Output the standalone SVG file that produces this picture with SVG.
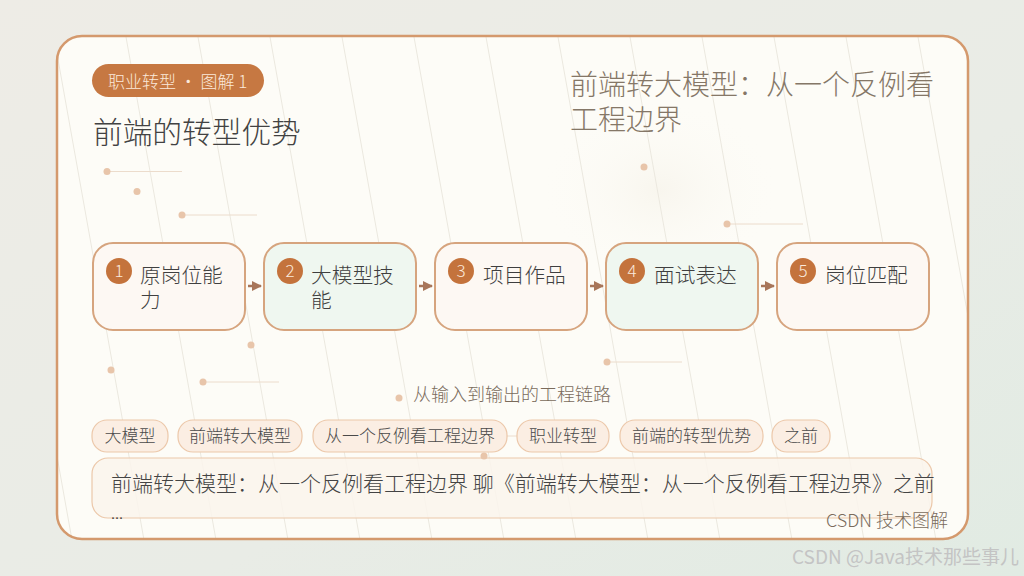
<svg xmlns="http://www.w3.org/2000/svg" width="1024" height="576" viewBox="0 0 1024 576">
<defs>
<linearGradient id="bg" x1="0" y1="0" x2="1" y2="1">
<stop offset="0" stop-color="#eeece6"/>
<stop offset="0.6" stop-color="#e9ece6"/>
<stop offset="1" stop-color="#e1ebe3"/>
</linearGradient>
<radialGradient id="glow" cx="0.5" cy="0.5" r="0.5">
<stop offset="0" stop-color="#f6f3ea" stop-opacity="0.7"/>
<stop offset="1" stop-color="#fdfcf7" stop-opacity="0"/>
</radialGradient>
<clipPath id="cardClip"><rect x="57" y="36" width="911" height="503" rx="25"/></clipPath>
<marker id="arr" viewBox="0 0 10 10" refX="9" refY="5" markerWidth="10" markerHeight="10" markerUnits="userSpaceOnUse" orient="auto">
<path d="M0,0 L10,5 L0,10 Z" fill="#a8765a"/>
</marker>
<style>
text{font-family:"Noto Sans CJK SC Light","Noto Sans CJK SC DemiLight","Noto Sans CJK SC","Noto Sans",sans-serif;font-weight:300}
.node{stroke:#d6a47e;stroke-width:2}
.warm{fill:#fdf8f3}
.green{fill:#eff7f0}
.num{fill:#c4733c}
.numt{fill:#fbeadd;font-size:17px;text-anchor:middle}
.lbl{fill:#3f3f3f;font-size:20.7px}
.tag{fill:#fbeee3;stroke:#ecc8aa;stroke-width:1.2}
.tagt{fill:#4a4a4a;font-size:17px;text-anchor:middle}
.dot{fill:#e8c5aa}
.dl{stroke:#ecdccc;stroke-width:1}
.sl{stroke:#ebe8df;stroke-width:1}
.conn{stroke:#a8765a;stroke-width:2.5;fill:none}
</style>
</defs>
<rect x="0" y="0" width="1024" height="576" fill="url(#bg)"/>
<rect x="57" y="36" width="911" height="503" rx="25" fill="#fdfcf7"/>
<g clip-path="url(#cardClip)">
<ellipse cx="660" cy="190" rx="120" ry="90" fill="url(#glow)"/>
<g class="sl">
<line x1="54" y1="37" x2="144" y2="540"/>
<line x1="126" y1="37" x2="216" y2="540"/>
<line x1="198" y1="37" x2="288" y2="540"/>
<line x1="270" y1="37" x2="360" y2="540"/>
<line x1="342" y1="37" x2="432" y2="540"/>
<line x1="414" y1="37" x2="504" y2="540"/>
<line x1="486" y1="37" x2="576" y2="540"/>
<line x1="558" y1="37" x2="648" y2="540"/>
<line x1="630" y1="37" x2="720" y2="540"/>
<line x1="702" y1="37" x2="792" y2="540"/>
<line x1="774" y1="37" x2="864" y2="540"/>
<line x1="846" y1="37" x2="936" y2="540"/>
<line x1="918" y1="37" x2="1008" y2="540"/>
<line x1="-18" y1="37" x2="72" y2="540"/>
</g>
</g>
<rect x="57" y="36" width="911" height="503" rx="25" fill="none" stroke="#d4996d" stroke-width="2.5"/>

<g id="decor">
<line class="dl" x1="107" y1="171.5" x2="182" y2="171.5"/><circle class="dot" cx="107" cy="171.5" r="3.5"/>
<circle class="dot" cx="137" cy="191.5" r="3.5"/>
<line class="dl" x1="182" y1="215" x2="257" y2="215"/><circle class="dot" cx="182" cy="215" r="3.5"/>
<circle class="dot" cx="644" cy="167" r="3.5"/>
<line class="dl" x1="727" y1="224" x2="803" y2="224"/><circle class="dot" cx="727" cy="224" r="3.5"/>
<circle class="dot" cx="251" cy="345" r="3.5"/>
<circle class="dot" cx="111" cy="370" r="3.5"/>
<line class="dl" x1="203" y1="382" x2="279" y2="382"/><circle class="dot" cx="203" cy="382" r="3.5"/>
<line class="dl" x1="607" y1="362" x2="682" y2="362"/><circle class="dot" cx="607" cy="362" r="3.5"/>
<circle class="dot" cx="399" cy="398" r="3.5"/>
<line class="dl" x1="460" y1="436" x2="535" y2="436"/>
</g>

<g id="badge">
<rect x="92" y="64" width="172" height="33" rx="16.5" fill="#c67842"/>
<text x="108" y="87.5" font-size="17" fill="#fbe9da">职业转型 · 图解 1</text>
</g>
<text id="title" x="93" y="143" font-size="29.7" fill="#424242">前端的转型优势</text>
<g id="subtitle" fill="#857767" font-size="28">
<text x="570" y="95">前端转大模型：从一个反例看</text>
<text x="570" y="130">工程边界</text>
</g>

<g id="connectors">
<line class="conn" x1="248" y1="286" x2="261" y2="286" marker-end="url(#arr)"/>
<line class="conn" x1="419" y1="286" x2="432" y2="286" marker-end="url(#arr)"/>
<line class="conn" x1="590" y1="286" x2="603" y2="286" marker-end="url(#arr)"/>
<line class="conn" x1="761" y1="286" x2="774" y2="286" marker-end="url(#arr)"/>
</g>

<g id="node1">
<rect class="node warm" x="93" y="243" width="152" height="87" rx="20"/>
<circle class="num" cx="119" cy="271" r="13"/><text class="numt" x="119" y="277">1</text>
<text class="lbl" x="140" y="283">原岗位能</text><text class="lbl" x="140" y="308">力</text>
</g>
<g id="node2">
<rect class="node green" x="264" y="243" width="152" height="87" rx="20"/>
<circle class="num" cx="290" cy="271" r="13"/><text class="numt" x="290" y="277">2</text>
<text class="lbl" x="311" y="283">大模型技</text><text class="lbl" x="311" y="308">能</text>
</g>
<g id="node3">
<rect class="node warm" x="435" y="243" width="152" height="87" rx="20"/>
<circle class="num" cx="461" cy="271" r="13"/><text class="numt" x="461" y="277">3</text>
<text class="lbl" x="483" y="283">项目作品</text>
</g>
<g id="node4">
<rect class="node green" x="606" y="243" width="152" height="87" rx="20"/>
<circle class="num" cx="632" cy="271" r="13"/><text class="numt" x="632" y="277">4</text>
<text class="lbl" x="654" y="283">面试表达</text>
</g>
<g id="node5">
<rect class="node warm" x="777" y="243" width="152" height="87" rx="20"/>
<circle class="num" cx="803" cy="271" r="13"/><text class="numt" x="803" y="277">5</text>
<text class="lbl" x="825" y="283">岗位匹配</text>
</g>

<text id="caption" x="413" y="401" font-size="18" fill="#7a6b5c">从输入到输出的工程链路</text>

<g id="tags">
<rect class="tag" x="92" y="420" width="76" height="32" rx="15"/><text class="tagt" x="130" y="442">大模型</text>
<rect class="tag" x="178" y="420" width="124" height="32" rx="15"/><text class="tagt" x="240" y="442">前端转大模型</text>
<rect class="tag" x="313" y="420" width="194" height="32" rx="15"/><text class="tagt" x="410" y="442">从一个反例看工程边界</text>
<rect class="tag" x="517" y="420" width="92" height="32" rx="15"/><text class="tagt" x="563" y="442">职业转型</text>
<rect class="tag" x="620" y="420" width="143" height="32" rx="15"/><text class="tagt" x="691.5" y="442">前端的转型优势</text>
<rect class="tag" x="772" y="420" width="58" height="32" rx="15"/><text class="tagt" x="801" y="442">之前</text>
</g>

<g id="desc">
<rect x="92" y="458" width="840" height="60" rx="16" fill="#faf4ec" fill-opacity="0.85" stroke="#ecc8aa" stroke-width="1.2"/>
<circle class="dot" cx="484" cy="456" r="3.5"/>
<text x="111" y="491" font-size="21" fill="#444">前端转大模型：从一个反例看工程边界 聊《前端转大模型：从一个反例看工程边界》之前</text>
<text x="111" y="519" font-size="16" fill="#444">...</text>
</g>

<text id="footer" x="948" y="527" font-size="18" fill="#7a6b5c" text-anchor="end">CSDN 技术图解</text>
<text id="watermark" x="1019" y="564" font-size="19" fill="#c4c4c4" text-anchor="end" style="font-family:'Noto Sans CJK SC',sans-serif;font-weight:400">CSDN @Java技术那些事儿</text>
</svg>
